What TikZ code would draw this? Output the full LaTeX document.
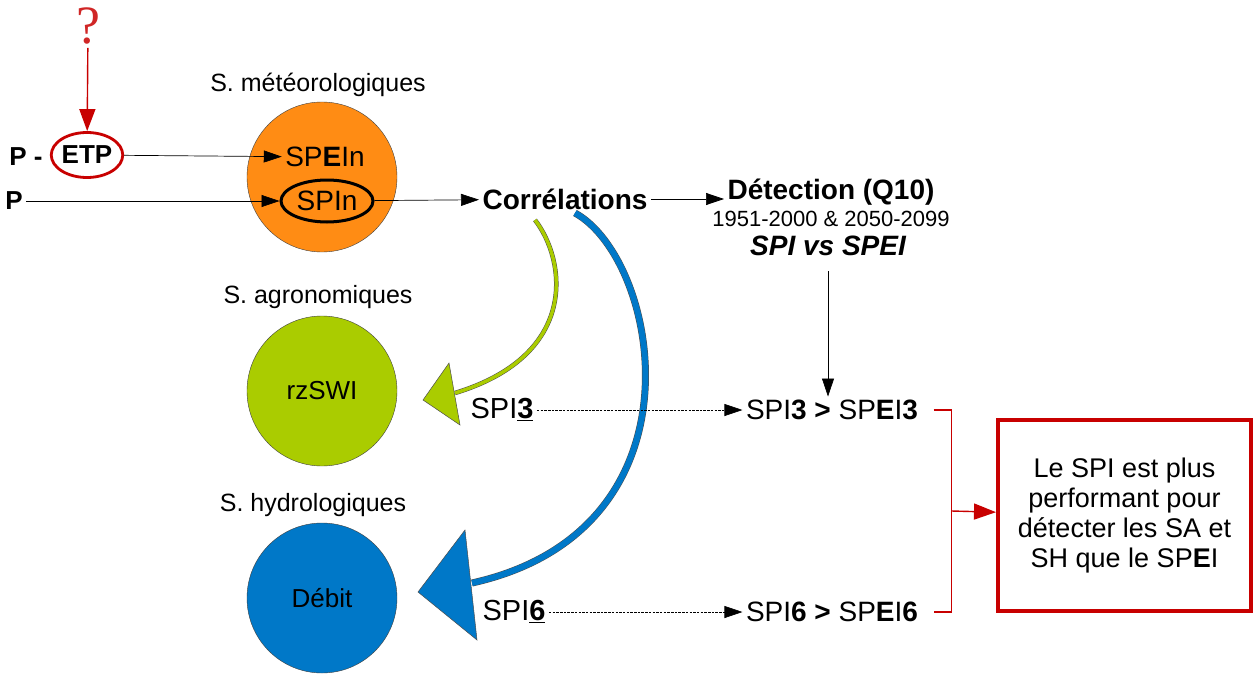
\documentclass[tikz,border=0pt]{standalone}
\usepackage{fontspec}
\setmainfont{Liberation Sans}
\newfontfamily\serifq{Liberation Serif}
\usetikzlibrary{arrows.meta, positioning, shapes.geometric, calc}
\definecolor{meteo}{RGB}{255,140,20}
\definecolor{agro}{RGB}{170,204,0}
\definecolor{hydro}{RGB}{0,120,200}
\definecolor{alerte}{RGB}{200,0,0}
\newcommand{\fs}[1]{\fontsize{#1}{#1}\selectfont}
\tikzset{
    bassin/.style={circle, draw=black!75, minimum size=150pt, inner sep=0pt, font=\fs{26}},
    titre/.style={font=\fs{25}},
    fleche/.style={-{Triangle[length=18pt, width=12pt]}, line width=0.7pt},
    tiret/.style={fleche, dash pattern=on 2.5pt off 1.2pt},
    alarme/.style={draw=alerte, line width=1.4pt},
    grosse/.style={-{Triangle[length=22pt, width=16pt]}},
    vert/.style={draw=black!70, double=agro, double distance=3.5pt, line width=0.5pt},
    bleu/.style={draw=black!70, double=hydro, double distance=6pt, line width=0.5pt},
}

\begin{document}
\begin{tikzpicture}[x=1pt, y=-1pt]
    \useasboundingbox (0,0) rectangle (1255,674);

    \node[bassin, fill=meteo] (c1) at (322,177) {};
    \node[bassin, fill=agro] (c2) at (322,391) {rzSWI};
    \node[bassin, fill=hydro] (c3) at (322,598) {Débit};
    \node[titre] (t1) at (318,85) {S. météorologiques};
    \node[titre] (t2) at (318,297) {S. agronomiques};
    \node[titre] (t3) at (313,505) {S. hydrologiques};

    \node[font=\fs{28}] (spein) at (325,157) {SP\textbf{E}In};
    \node[ellipse, draw, line width=3pt, inner sep=0pt, minimum width=92pt, minimum height=42pt, font=\fs{28}] (spin) at (327,201) {SPIn};

    \node[font=\fs{26}\bfseries] (pm) at (26,157) {P -};
    \node[ellipse, draw=alerte, line width=2.8pt, inner sep=0pt, minimum width=70pt, minimum height=45pt, font=\fs{26}\bfseries] (etp) at (87,155) {ETP};
    \node[font=\fs{26}\bfseries] (p) at (14,201) {P};
    \node[text=alerte!85, font=\serifq\fs{54}] (q) at (88,26) {?};

    \draw[fleche, grosse, draw=alerte, line width=1.4pt] (q) -- (etp);
    \draw[fleche] (etp) -- (spein);
    \draw[fleche] (p) -- (spin);

    \node[font=\fs{28}\bfseries] (corr) at (565,199) {Corrélations};
    \draw[fleche] (spin) -- (corr);

    \node[font=\fs{28}\bfseries] (detect) at (831,192) {Détection (Q10)};
    \node[font=\fs{22}] (periode) at (831,219) {1951-2000 \& 2050-2099};
    \node[font=\fs{28}\bfseries\itshape] (compare) at (828,246) {SPI vs SPEI};
    \draw[fleche] (corr) -- (corr -| detect.west);

    \node[font=\fs{29}] (s3) at (502,410) {SPI\underline{\textbf{3}}};
    \node[font=\fs{29}] (s6) at (514,612) {SPI\underline{\textbf{6}}};
    \node[font=\fs{28}] (r3) at (832,410) {SPI\textbf{3 >} SP\textbf{E}I\textbf{3}};
    \node[font=\fs{28}] (r6) at (832,612) {SPI\textbf{6 >} SP\textbf{E}I\textbf{6}};
    \draw[fleche, shorten <=12pt] (compare) -- (compare |- r3.north);

    \coordinate (pointe3) at (423,400);
    \coordinate (pointe6) at (418,592);
    \draw[vert] ($(corr.center)+(-30,21)$) .. controls +(31,40) and +(125,-38) .. ($(pointe3)+(32,-7)$);
    \draw[bleu] ($(corr.center)+(10,14)$) .. controls +(85,47) and +(238,-53) .. ($(pointe6)+(54,-9)$);
    \filldraw[fill=agro, draw=black!70, line width=0.5pt] (pointe3) -- ++(26,-37) -- ++(11,62) -- cycle;
    \filldraw[fill=hydro, draw=black!70, line width=0.5pt] (pointe6) -- ++(47,-62) -- ++(12,110) -- cycle;

    \draw[tiret] (s3) -- (r3);
    \draw[tiret] (s6) -- (r6);

    \node[draw=alerte, line width=4pt, minimum width=253pt, minimum height=191pt, align=center, font=\fontsize{27}{30}\selectfont] (bilan) at (1124.5,515.5)
        {Le SPI est plus\\performant pour\\détecter les SA et\\SH que le SP\textbf{E}I};
    \draw[alarme] ([xshift=12pt]r3.east) -- ++(18,0) coordinate (k3) -- (k3 |- r6.east) coordinate (k6) -- ([xshift=12pt]r6.east);
    \coordinate (kmid) at ($(k3)!0.5!(k6)$);
    \draw[alarme, grosse] (kmid) -- (bilan);
\end{tikzpicture}
\end{document}
